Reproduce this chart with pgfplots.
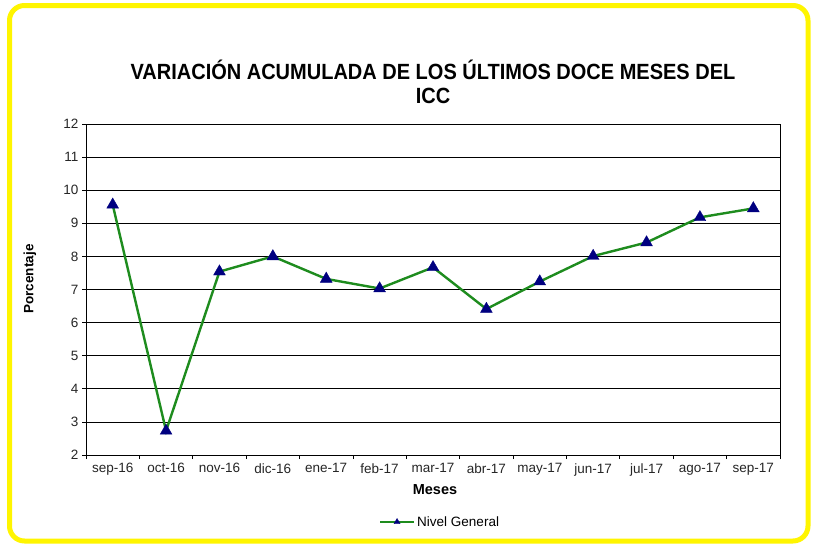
\documentclass[border=0pt]{standalone}
\usepackage{fontspec}
\setmainfont{Liberation Sans}
\usepackage{graphicx}
\usepackage{pgfplots}
\pgfplotsset{compat=1.18}
\definecolor{linegreen}{RGB}{30,140,30}
\definecolor{marknavy}{RGB}{0,0,128}
\definecolor{frameyellow}{RGB}{255,245,0}
\begin{document}
\begin{tikzpicture}
\useasboundingbox (0pt,0pt) rectangle (814pt,-546pt);
\fill[white] (0pt,0pt) rectangle (814pt,-546pt);
\draw[frameyellow, line width=5pt, rounded corners=15pt] (9.5pt,-5.5pt) rectangle (808pt,-541pt);
\node[font=\bfseries\fontsize{20}{24}\selectfont, align=center] at (433pt,-82pt)
  {\scalebox{1}[1.1]{VARIACIÓN ACUMULADA DE LOS ÚLTIMOS DOCE MESES DEL}\\\scalebox{1}[1.1]{ICC}};
\node[font=\bfseries\fontsize{13.5}{15}\selectfont, rotate=90] at (30pt,-279pt) {Porcentaje};
\node[font=\bfseries\fontsize{14.5}{16}\selectfont] at (435pt,-490pt) {Meses};
\begin{axis}[
  at={(86pt,-455pt)}, anchor=south west,
  scale only axis, width=694pt, height=331pt,
  xmin=-0.5, xmax=12.5, ymin=2, ymax=12,
  ytick={2,3,...,12},
  xtick={0,...,12},
  xticklabels={sep-16,oct-16,nov-16,dic-16,ene-17,feb-17,mar-17,abr-17,may-17,jun-17,jul-17,ago-17,sep-17},
  minor xtick={-0.5,0.5,...,12.5},
  major x tick style={draw=none},
  tick align=outside,
  major tick length=4pt, minor tick length=4pt,
  tick style={black, line width=0.8pt},
  xtick pos=bottom, ytick pos=left,
  ymajorgrids, grid style={black, line width=0.8pt},
  axis line style={black, line width=0.8pt},
  /pgf/number format/assume math mode=true,
  ticklabel style={font=\fontsize{13.5}{15}\selectfont, text=black!85},
  xticklabel style={yshift=-1pt},
  legend style={at={(axis description cs:0.51,-0.2024)}, anchor=center, draw=none, fill=none,
    font=\fontsize{13.5}{15}\selectfont, inner sep=1pt},
  legend image code/.code={\draw[mark repeat=2,mark phase=2,mark size=3.5pt] plot coordinates {(0pt,0pt)(17pt,0pt)(34pt,0pt)};},
]
\addplot[linegreen, line width=2.4pt, mark=triangle*, mark size=6.8pt,
  mark options={fill=marknavy, draw=marknavy, line width=0.4pt}]
  coordinates {(0,9.56)(1,2.73)(2,7.54)(3,8.00)(4,7.32)(5,7.03)(6,7.67)(7,6.41)(8,7.24)(9,8.01)(10,8.42)(11,9.18)(12,9.45)};
\addlegendentry{Nivel General}
\end{axis}
\end{tikzpicture}
\end{document}
